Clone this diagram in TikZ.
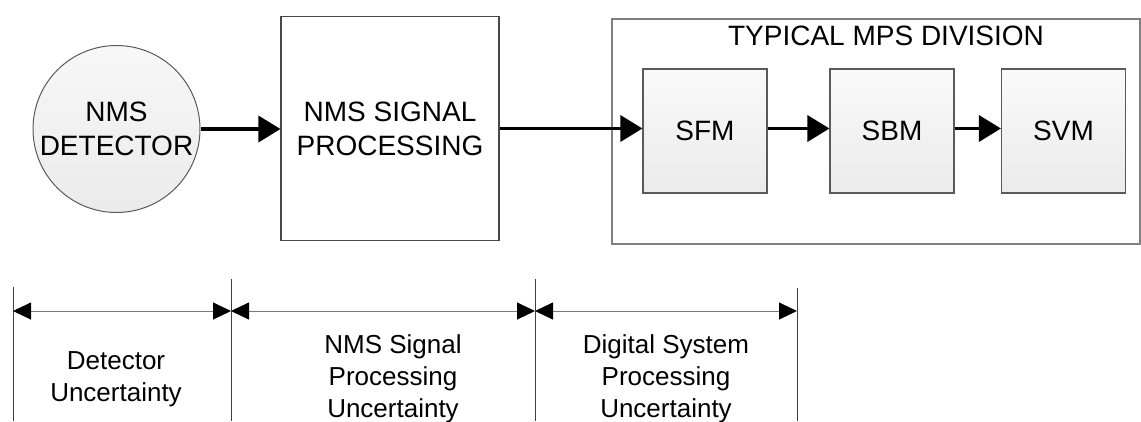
\documentclass[tikz,border=0pt]{standalone}
\usepackage{fontspec}
\setmainfont{Liberation Sans}
\usetikzlibrary{arrows.meta,shapes.geometric}
\definecolor{edgegray}{HTML}{5A5A5A}
\definecolor{framegray}{HTML}{808080}
\definecolor{dimgray}{HTML}{7A7A7A}
\tikzset{
  bigfont/.style={font=\fontsize{28}{34}\selectfont},
  smallfont/.style={font=\fontsize{26}{32}\selectfont},
  detector/.style={circle, draw=edgegray, line width=1pt, minimum size=167pt, inner sep=0pt,
    top color=white!97!black, bottom color=white!92!black, bigfont, align=center},
  plainbox/.style={rectangle, draw=edgegray!80!black, line width=1.1pt, fill=white, inner sep=0pt, bigfont, align=center},
  framebox/.style={rectangle, draw=framegray, line width=1.1pt, inner sep=0pt},
  modbox/.style={rectangle, draw=edgegray, line width=1.1pt, minimum width=124pt, minimum height=124pt,
    inner sep=0pt, top color=white!98!black, bottom color=white!92!black, bigfont},
  flow/.style={line width=3.5pt, -{Triangle[length=22pt,width=26pt]}},
  tick/.style={draw=black!75, line width=0.9pt},
  span/.style={draw=dimgray, line width=0.9pt,
    {Triangle[length=18pt,width=17pt,black]}-{Triangle[length=18pt,width=17pt,black]}},
  spanlabel/.style={smallfont, align=center, inner sep=0pt}
}
\begin{document}
\begin{tikzpicture}[x=1pt, y=-1pt]
  \useasboundingbox (0,0) rectangle (1141,421);

  % signal chain
  \node[detector] (det) at (116.5,129) {NMS\\DETECTOR};
  \node[plainbox, minimum width=218pt, minimum height=224pt] (nsp) at (390,128.5) {NMS SIGNAL\\PROCESSING};
  \node[framebox, minimum width=528pt, minimum height=225pt] (mps) at (876,131.5) {};
  \node[bigfont, inner sep=0pt] (title) at (886,36) {TYPICAL MPS DIVISION};
  \node[modbox] (sfm) at (705,131) {SFM};
  \node[modbox] (sbm) at (892,131) {SBM};
  \node[modbox] (svm) at (1063.5,131) {SVM};

  \draw[flow] (det.east) -- (det.east -| nsp.west);
  \draw[flow] (nsp.east) -- (nsp.east -| sfm.west);
  \draw[flow] (sfm.east |- nsp.east) -- (sbm.west |- nsp.east);
  \draw[flow] (sbm.east |- nsp.east) -- (svm.west |- nsp.east);

  % uncertainty spans
  \coordinate (k0) at (13,287);
  \coordinate (k1) at (231,279);
  \coordinate (k2) at (535,279);
  \coordinate (k3) at (797,288);
  \coordinate (a0) at (13,311);
  \coordinate (a1) at (231,311);
  \coordinate (a2) at (535,311);
  \coordinate (a3) at (797,311);
  \coordinate (e0) at (13,421);
  \coordinate (e1) at (231,421);
  \coordinate (e2) at (535,421);
  \coordinate (e3) at (797,421);

  \draw[tick] (k0) -- (e0);
  \draw[tick] (k1) -- (e1);
  \draw[tick] (k2) -- (e2);
  \draw[tick] (k3) -- (e3);

  \draw[span] (a0) -- (a1);
  \draw[span] (a1) -- (a2);
  \draw[span] (a2) -- (a3);

  \node[spanlabel] (u1) at (116,379) {Detector\\Uncertainty};
  \node[spanlabel] (u2) at (393,379) {NMS Signal\\Processing\\Uncertainty};
  \node[spanlabel] (u3) at (666,379) {Digital System\\Processing\\Uncertainty};
\end{tikzpicture}
\end{document}
